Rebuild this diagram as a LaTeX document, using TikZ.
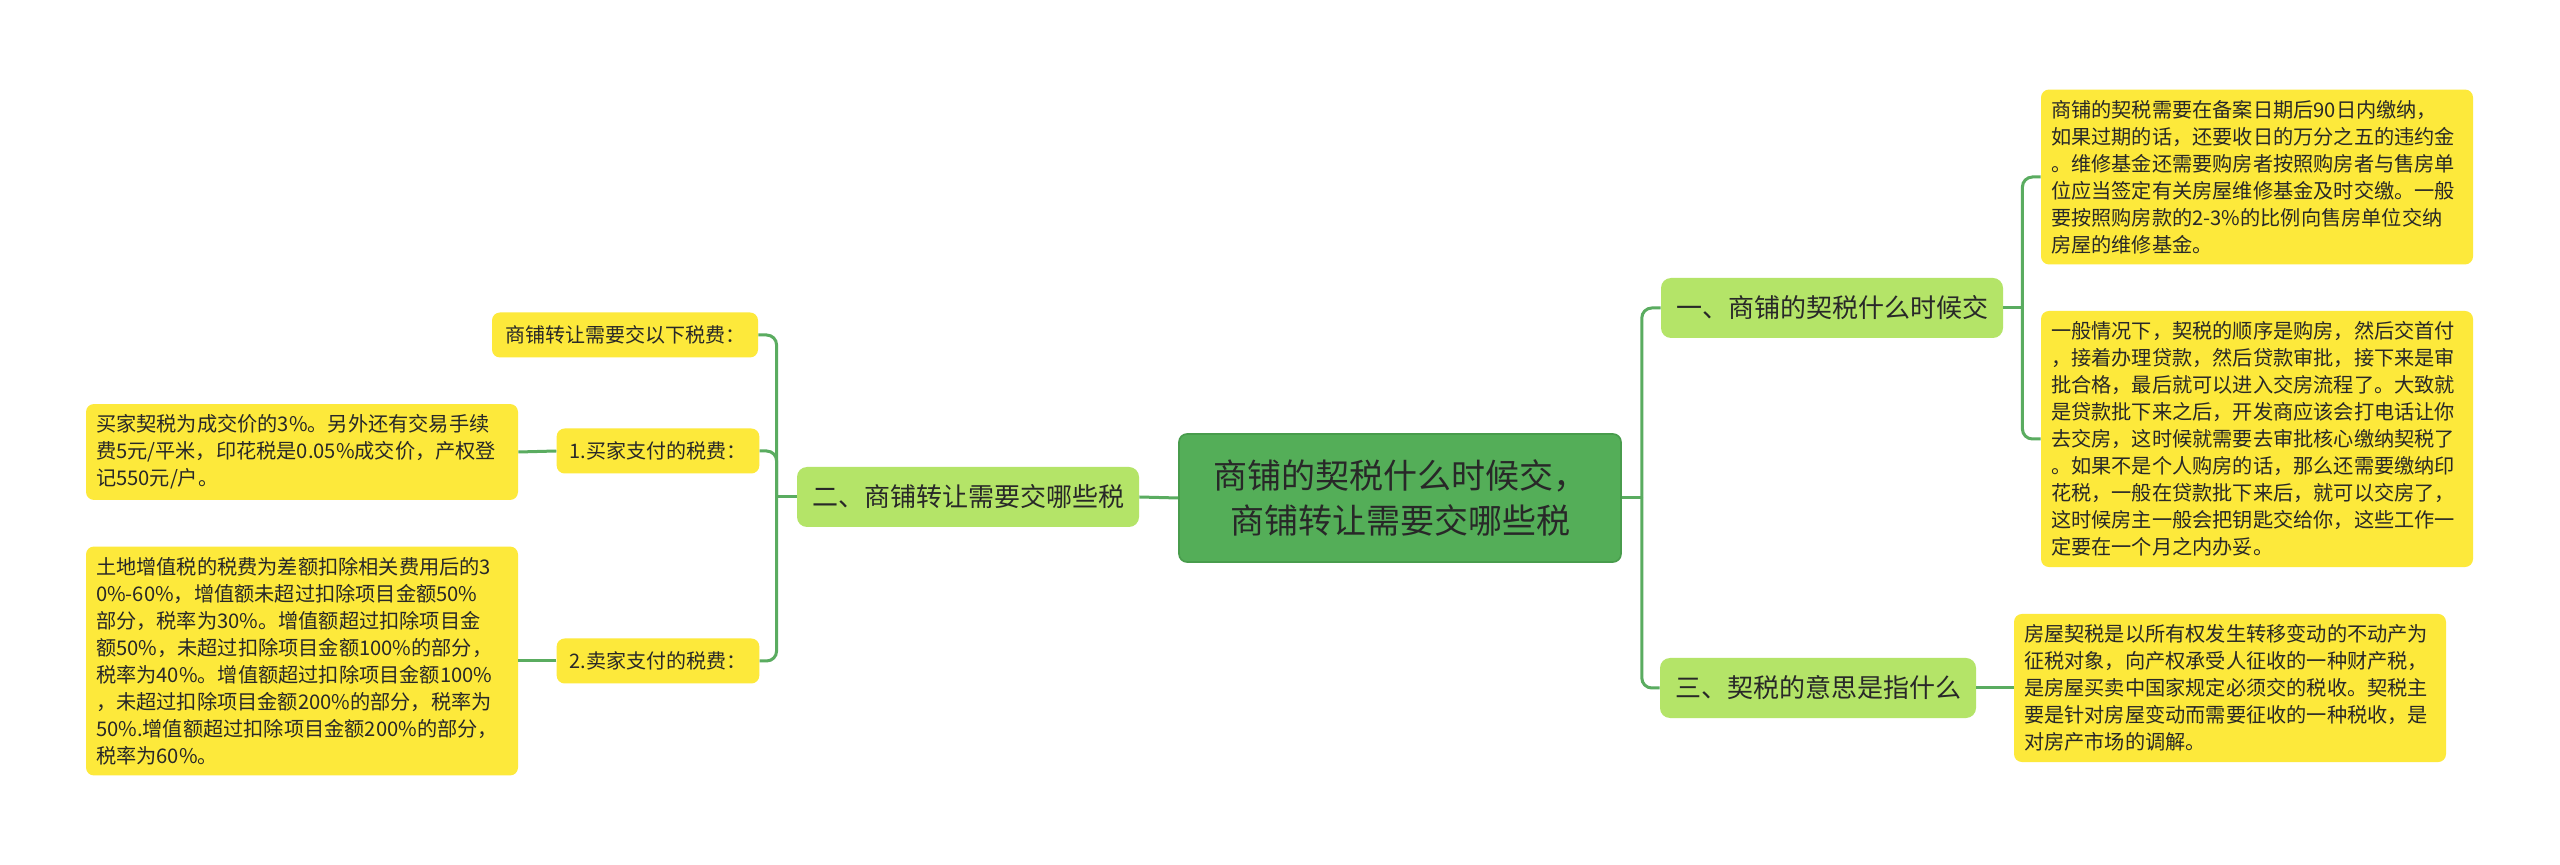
\documentclass[tikz,border=0pt]{standalone}
\usepackage{fontspec}
\setmainfont{Noto Sans CJK SC}
\usepackage{xcolor}
\definecolor{rootgreen}{RGB}{84,174,88}
\definecolor{rootline}{RGB}{72,156,76}
\definecolor{subgreen}{RGB}{180,228,104}
\definecolor{leafyellow}{RGB}{253,233,59}
\definecolor{linkgreen}{RGB}{90,172,96}
\definecolor{inktext}{RGB}{40,40,40}
\usepackage{tikz}
\usetikzlibrary{positioning}

\begin{document}
\begin{tikzpicture}[x=0.5pt,y=-0.5pt]
  \tikzstyle{root}=[rectangle,draw=rootline,line width=0.8pt,fill=rootgreen,text=inktext,rounded corners=4pt,align=center,minimum width=221pt,minimum height=64pt,font=\fontsize{17pt}{22.5pt}\selectfont]
  \tikzstyle{topic}=[rectangle,fill=subgreen,text=inktext,rounded corners=5pt,minimum height=30pt,inner xsep=7.5pt,font=\fontsize{13pt}{16pt}\selectfont]
  \tikzstyle{tag}=[rectangle,fill=leafyellow,text=inktext,rounded corners=4pt,minimum height=22.5pt,inner xsep=6.5pt,font=\fontsize{10pt}{12pt}\selectfont]
  \tikzstyle{leaf}=[rectangle,fill=leafyellow,text=inktext,rounded corners=4pt,text width=206pt,inner xsep=5pt,inner ysep=5.3pt,align=left,font=\fontsize{10.1pt}{13.5pt}\selectfont]
  \tikzstyle{link}=[draw=linkgreen,line width=1.5pt]

  \useasboundingbox[fill=white] (0,0) rectangle (2560,865);

  % centre
  \node[root] (root) at (1400,498) {商铺的契税什么时候交，\\商铺转让需要交哪些税};

  % right side
  \node[topic] (q1) at (1832,308) {一、商铺的契税什么时候交};
  \node[topic] (q3) at (1818,688) {三、契税的意思是指什么};
  \node[leaf] (a1) at (2257,177) {商铺的契税需要在备案日期后90日内缴纳，\\如果过期的话，还要收日的万分之五的违约金\\。维修基金还需要购房者按照购房者与售房单\\位应当签定有关房屋维修基金及时交缴。一般\\要按照购房款的2-3\%的比例向售房单位交纳\\房屋的维修基金。};
  \node[leaf] (a2) at (2257,439) {一般情况下，契税的顺序是购房，然后交首付\\，接着办理贷款，然后贷款审批，接下来是审\\批合格，最后就可以进入交房流程了。大致就\\是贷款批下来之后，开发商应该会打电话让你\\去交房，这时候就需要去审批核心缴纳契税了\\。如果不是个人购房的话，那么还需要缴纳印\\花税，一般在贷款批下来后，就可以交房了，\\这时候房主一般会把钥匙交给你，这些工作一\\定要在一个月之内办妥。};
  \node[leaf] (a3) at (2230,688) {房屋契税是以所有权发生转移变动的不动产为\\征税对象，向产权承受人征收的一种财产税，\\是房屋买卖中国家规定必须交的税收。契税主\\要是针对房屋变动而需要征收的一种税收，是\\对房产市场的调解。};

  % left side
  \node[topic] (q2) at (968,497) {二、商铺转让需要交哪些税};
  \node[tag] (s0) at (625,335) {商铺转让需要交以下税费：};
  \node[tag] (s1) at (658,451) {1.买家支付的税费：};
  \node[tag] (s2) at (658,661) {2.卖家支付的税费：};
  \node[leaf] (b1) at (302,452) {买家契税为成交价的3\%。另外还有交易手续\\费5元/平米，印花税是0.05\%成交价，产权登\\记550元/户。};
  \node[leaf] (b2) at (302,661) {土地增值税的税费为差额扣除相关费用后的3\\0\%-60\%，增值额未超过扣除项目金额50\%\\部分，税率为30\%。增值额超过扣除项目金\\额50\%，未超过扣除项目金额100\%的部分，\\税率为40\%。增值额超过扣除项目金额100\%\\，未超过扣除项目金额200\%的部分，税率为\\50\%.增值额超过扣除项目金额200\%的部分，\\税率为60\%。};

  % connectors
  \draw[link] (root.east) -- ++(20,0) coordinate (rj);
  \draw[link,rounded corners=5pt] (rj) |- (q1.west);
  \draw[link,rounded corners=5pt] (rj) |- (q3.west);
  \draw[link] (q1.east) -- ++(19,0) coordinate (qj);
  \draw[link,rounded corners=5pt] (qj) |- (a1.west);
  \draw[link,rounded corners=5pt] (qj) |- (a2.west);
  \draw[link] (q3.east) -- (a3.west);
  \draw[link] (root.west) -- (q2.east);
  \draw[link] (q2.west) -- ++(-20,0) coordinate (lj);
  \draw[link,rounded corners=5pt] (lj) |- (s0.east);
  \draw[link,rounded corners=5pt] (lj) |- (s1.east);
  \draw[link,rounded corners=5pt] (lj) |- (s2.east);
  \draw[link] (s1.west) -- (b1.east);
  \draw[link] (s2.west) -- (b2.east);
\end{tikzpicture}
\end{document}
